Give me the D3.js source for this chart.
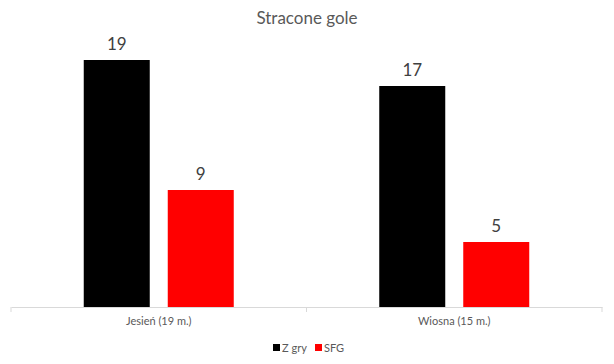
<!DOCTYPE html>
<html><head><meta charset="utf-8">
<script src="https://cdn.jsdelivr.net/npm/d3@7"></script>
<style>body{margin:0;background:#fff}svg{display:block;font-family:Lato,"Open Sans",sans-serif}</style>
</head><body>
<svg id="c" width="614" height="364"></svg>
<script>
const categories = ["Jesień (19 m.)", "Wiosna (15 m.)"];
const seriesNames = ["Z gry", "SFG"];
const zGry = [19, 17];
const sfg = [9, 5];
const colors = ["#000000", "#ff0000"];
const title = "Stracone gole";

const svg = d3.select("#c");
const x0 = d3.scaleBand().domain(categories).range([11, 602]).paddingInner(0).paddingOuter(0);
const x1 = d3.scaleBand().domain(seriesNames).range([0, x0.bandwidth()]).paddingInner(0.2143).paddingOuter(0.866);
const y = d3.scaleLinear().domain([0, 20]).range([307, 47]);

const data = categories.map((c, i) => ({cat: c, vals: [zGry[i], sfg[i]]}));

svg.append("text").attr("x", 307).attr("y", 24).attr("text-anchor", "middle")
  .attr("font-size", 17).attr("fill", "#595959").text(title);

const g = svg.selectAll("g.cat").data(data).join("g").attr("class", "cat")
  .attr("transform", d => `translate(${x0(d.cat)},0)`);
g.selectAll("rect").data(d => d.vals.map((v, j) => ({v, s: seriesNames[j], j})))
  .join("rect")
  .attr("x", d => x1(d.s)).attr("width", x1.bandwidth())
  .attr("y", d => y(d.v)).attr("height", d => y(0) - y(d.v))
  .attr("fill", d => colors[d.j]);
g.selectAll("text.val").data(d => d.vals.map((v, j) => ({v, s: seriesNames[j]})))
  .join("text").attr("class", "val")
  .attr("x", d => x1(d.s) + x1.bandwidth() / 2).attr("y", d => y(d.v) - 10)
  .attr("text-anchor", "middle").attr("font-size", 17).attr("fill", "#404040").text(d => d.v);

const axis = d3.axisBottom(x0).tickSize(0).tickPadding(10);
const ax = svg.append("g").attr("transform", `translate(0,${y(0)})`).call(axis);
ax.select(".domain").attr("stroke", "#d9d9d9");
ax.selectAll(".tick text").attr("font-size", 11).attr("fill", "#595959").attr("font-family", "Lato,sans-serif");
const edges = [x0.range()[0], ...categories.map(c => x0(c) + x0.bandwidth())];
ax.selectAll("line.sep").data(edges).join("line").attr("class", "sep")
  .attr("x1", d => d).attr("x2", d => d).attr("y1", 0).attr("y2", 5).attr("stroke", "#d9d9d9");

const leg = svg.append("g").attr("transform", "translate(273,348)");
const items = [{n: seriesNames[0], c: colors[0], x: 0}, {n: seriesNames[1], c: colors[1], x: 42}];
items.forEach(it => {
  leg.append("rect").attr("x", it.x).attr("y", -4).attr("width", 7).attr("height", 7).attr("fill", it.c);
  leg.append("text").attr("x", it.x + 9).attr("y", 4).attr("font-size", 11).attr("fill", "#595959").text(it.n);
});
</script>
</body></html>
